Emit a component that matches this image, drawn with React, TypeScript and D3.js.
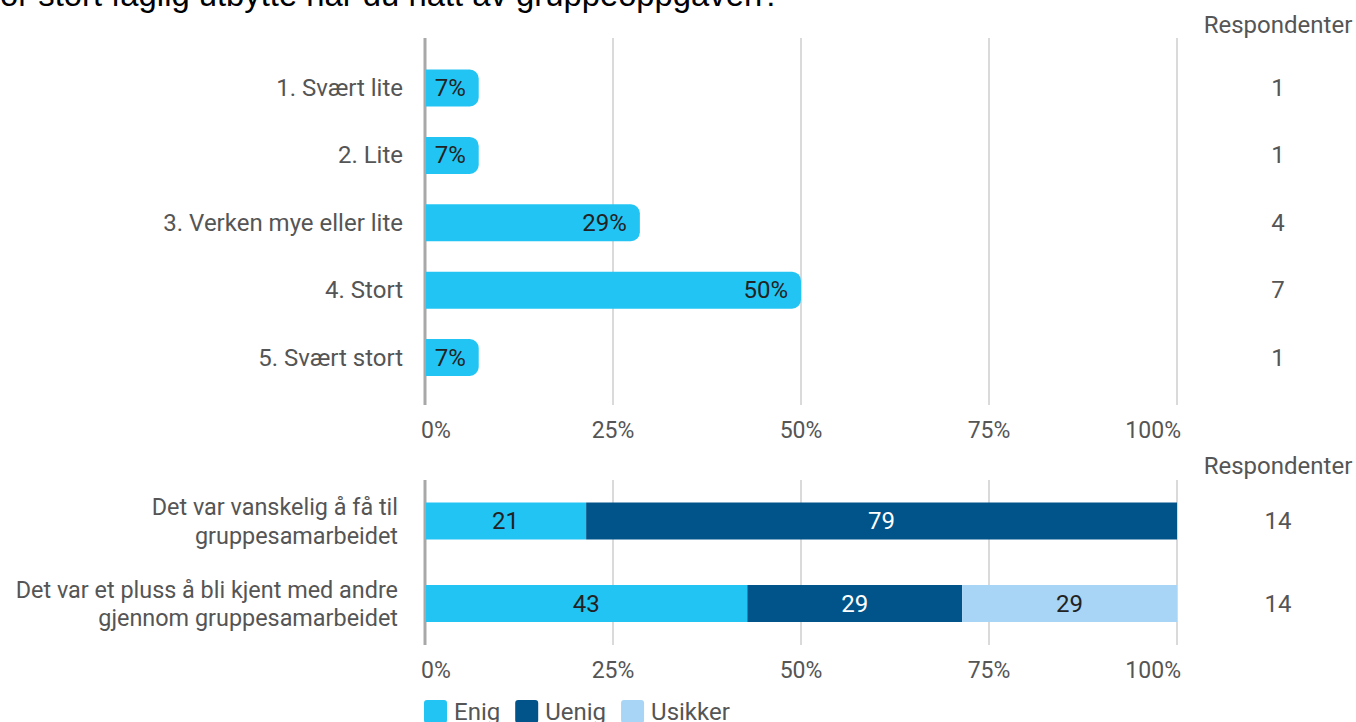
import React from 'react';
import * as d3 from 'd3';

// survey data
const titleText = "Hvor stort faglig utbytte har du hatt av gruppeoppgaven?";
const ratingCats = ["1. Svært lite", "2. Lite", "3. Verken mye eller lite", "4. Stort", "5. Svært stort"];
const ratingCounts = [1, 1, 4, 7, 1];

const statementLines = [
  ["Det var vanskelig å få til", "gruppesamarbeidet"],
  ["Det var et pluss å bli kjent med andre", "gjennom gruppesamarbeidet"],
];
const statementKeys = ["s1", "s2"];
const enigCounts = [3, 6];
const uenigCounts = [11, 4];
const usikkerCounts = [0, 4];

const seriesNames = ["Enig", "Uenig", "Usikker"];
const seriesColors = ["#22c4f3", "#00548a", "#a8d5f5"];
const seriesText = ["#222", "#fff", "#222"];
const pctTicks = [0, 25, 50, 75, 100];

const W = 1356;
const H = 722;
const FONT = "Roboto, 'Noto Sans', sans-serif";
const GREY = "#555";
const FS = 24;

function measure(text: string, size: number) {
  const c = document.createElement("canvas").getContext("2d");
  if (!c) return text.length * size * 0.5;
  c.font = `${size}px Roboto`;
  return c.measureText(text).width;
}

// bar with rounded right end only
function roundRight(x0: number, x1: number, y: number, h: number, r: number) {
  const p = d3.path();
  const rr = Math.min(r, (x1 - x0) / 2);
  p.moveTo(x0, y);
  p.lineTo(x1 - rr, y);
  p.arcTo(x1, y, x1, y + rr, rr);
  p.lineTo(x1, y + h - rr);
  p.arcTo(x1, y + h, x1 - rr, y + h, rr);
  p.lineTo(x0, y + h);
  p.closePath();
  return p.toString();
}

export default function App() {
  const x = d3.scaleLinear().domain([0, 100]).range([425, 1177]);
  const yTop = d3.scalePoint<string>().domain(ratingCats).range([88, 357.5]);
  const yBot = d3.scalePoint<string>().domain(statementKeys).range([521, 603.5]);
  const barH = 37;
  const respX = 1278;

  const totalTop = d3.sum(ratingCounts);

  const rows = statementKeys.map((k, i) => {
    const tot = enigCounts[i] + uenigCounts[i] + usikkerCounts[i];
    return {
      key: k,
      Enig: (enigCounts[i] / tot) * 100,
      Uenig: (uenigCounts[i] / tot) * 100,
      Usikker: (usikkerCounts[i] / tot) * 100,
      total: tot,
    };
  });
  const stacked = d3.stack<any>().keys(seriesNames)(rows);

  const tickAnchor = (i: number) => (i === 0 ? "start" : i === pctTicks.length - 1 ? "end" : "middle");
  const tickDx = (i: number) => (i === 0 ? -4 : i === pctTicks.length - 1 ? 4 : 0);

  const axisBlock = (y0: number, y1: number, labelY: number) => (
    <g>
      {pctTicks.slice(1).map(t => (
        <line key={t} x1={x(t)} x2={x(t)} y1={y0} y2={y1} stroke="#b5b5b5" strokeWidth={1} />
      ))}
      <line x1={x(0)} x2={x(0)} y1={y0} y2={y1} stroke="#a8a8a8" strokeWidth={3} />
      {pctTicks.map((t, i) => (
        <text key={t} x={x(t) + tickDx(i)} y={labelY} textAnchor={tickAnchor(i)} fontSize={23} fill={GREY}>
          {t}%
        </text>
      ))}
    </g>
  );

  // legend layout
  let lx = 424;
  const legend = seriesNames.map((name, i) => {
    const item = { name, color: seriesColors[i], x: lx };
    lx += 30 + measure(name, FS) + 15;
    return item;
  });

  return (
    <svg width={W} height={H} style={{ position: "absolute", left: 0, top: 0, background: "#fff" }} fontFamily={FONT}>
      <text x={-40} y={6} fontFamily="'Liberation Sans', Arial, sans-serif" fontSize={32.8} fill="#000">
        {titleText}
      </text>

      {/* top chart */}
      {axisBlock(38, 405, 438)}
      <text x={respX} y={33} textAnchor="middle" fontSize={FS} fill={GREY}>Respondenter</text>
      {ratingCats.map((c, i) => {
        const pct = (ratingCounts[i] / totalTop) * 100;
        const yc = yTop(c)!;
        const x1 = x(pct);
        return (
          <g key={c}>
            <text x={403} y={yc + 8} textAnchor="end" fontSize={FS} fill={GREY}>{c}</text>
            <path d={roundRight(x(0) + 1, x1, yc - barH / 2, barH, 9)} fill={seriesColors[0]} />
            <text x={x1 - 13} y={yc + 8} textAnchor="end" fontSize={FS} fill="#222">{Math.round(pct)}%</text>
            <text x={respX} y={yc + 8} textAnchor="middle" fontSize={FS} fill={GREY}>{ratingCounts[i]}</text>
          </g>
        );
      })}

      {/* bottom chart */}
      {axisBlock(480, 645, 678)}
      <text x={respX} y={474} textAnchor="middle" fontSize={FS} fill={GREY}>Respondenter</text>
      {stacked.map((s, si) => (
        <g key={s.key}>
          {s.map((d, ri) => {
            const w = x(d[1]) - x(d[0]);
            if (w <= 0) return null;
            const yc = yBot(statementKeys[ri])!;
            return (
              <g key={ri}>
                <rect x={x(d[0]) + (si === 0 ? 1 : 0)} y={yc - barH / 2} width={w - (si === 0 ? 1 : 0)} height={barH} fill={seriesColors[si]} />
                <text x={(x(d[0]) + x(d[1])) / 2} y={yc + 8} textAnchor="middle" fontSize={FS} fill={seriesText[si]}>
                  {Math.round(d[1] - d[0])}
                </text>
              </g>
            );
          })}
        </g>
      ))}
      {statementKeys.map((k, i) => {
        const yc = yBot(k)!;
        return (
          <g key={k}>
            {statementLines[i].map((line, li) => (
              <text key={li} x={398} y={yc - 14 + 8 + li * 28.5} textAnchor="end" fontSize={23.4} fill={GREY}>{line}</text>
            ))}
            <text x={respX} y={yc + 8} textAnchor="middle" fontSize={FS} fill={GREY}>{rows[i].total}</text>
          </g>
        );
      })}

      {/* legend */}
      {legend.map(l => (
        <g key={l.name}>
          <rect x={l.x} y={700} width={23} height={23} rx={3} fill={l.color} />
          <text x={l.x + 30} y={720} fontSize={FS} fill={GREY}>{l.name}</text>
        </g>
      ))}
    </svg>
  );
}
